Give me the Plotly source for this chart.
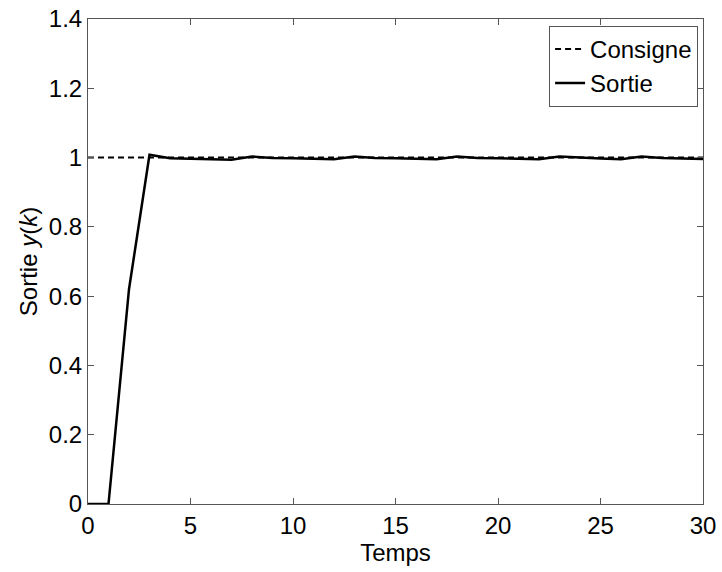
import plotly.graph_objects as go

temps = list(range(0, 31))
sortie = [0, 0, 0.62, 1.008, 0.998, 0.997, 0.996, 0.994, 1.003, 0.999, 0.998,
          0.997, 0.995, 1.003, 0.999, 0.998, 0.997, 0.995, 1.003, 0.999, 0.998,
          0.997, 0.995, 1.003, 0.999, 0.997, 0.995, 1.003, 0.999, 0.998, 0.996]
consigne = [1.0] * len(temps)

fig = go.Figure()
fig.add_trace(go.Scatter(x=temps, y=consigne, mode="lines", name="Consigne",
                         line=dict(color="black", width=2, dash="6px,4px")))
fig.add_trace(go.Scatter(x=temps, y=sortie, mode="lines", name="Sortie",
                         line=dict(color="black", width=2.5)))

FONT = "Liberation Sans, Arial"
axis_common = dict(showgrid=False, zeroline=False, showline=True, linecolor="#555",
                   linewidth=1, mirror="ticks", ticks="inside", ticklen=6,
                   tickcolor="#555", automargin=False,
                   tickfont=dict(family=FONT, size=24, color="black"))

fig.update_layout(
    width=722, height=572,
    margin=dict(l=88, r=19, t=19, b=68),
    paper_bgcolor="white", plot_bgcolor="white",
    font=dict(family=FONT, size=24, color="black"),
    xaxis=dict(range=[0, 30], tickvals=[0, 5, 10, 15, 20, 25, 30],
               title=dict(text="Temps", standoff=0, font=dict(size=24)), **axis_common),
    yaxis=dict(range=[0, 1.4], tickvals=[0, 0.2, 0.4, 0.6, 0.8, 1, 1.2, 1.4],
               ticktext=["0", "0.2", "0.4", "0.6", "0.8", "1", "1.2", "1.4"],
               title=dict(text="Sortie <i>y</i>(<i>k</i>)", standoff=4, font=dict(size=24)),
               **axis_common),
    legend=dict(x=0.992, y=0.986, xanchor="right", yanchor="top",
                bordercolor="#555", borderwidth=1, bgcolor="white",
                font=dict(size=24), tracegroupgap=0, itemwidth=30),
    showlegend=True,
)

fig.write_html("out.html")
